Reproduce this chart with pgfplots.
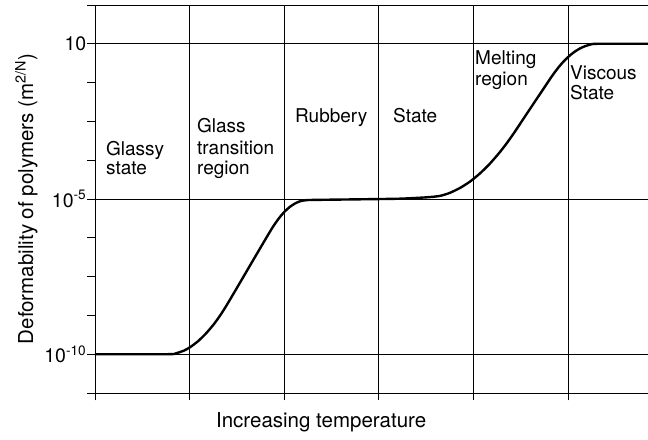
\documentclass[border=0pt]{standalone}
\usepackage{fontspec}
\setmainfont{TeX Gyre Heros}
\usepackage{pgfplots}
\pgfplotsset{compat=1.18}
\begin{document}
\fontsize{19bp}{20bp}\selectfont
\begin{tikzpicture}[font=\fontsize{19bp}{20bp}\selectfont]
\begin{axis}[
  scale only axis, width=553bp, height=388bp,
  xmin=0, xmax=5.846, ymin=0, ymax=10,
  axis x line=box, axis y line=left,
  every outer x axis line/.append style={-},
  every outer y axis line/.append style={-},
  every inner x axis line/.append style={-},
  every inner y axis line/.append style={-},
  axis line style={black, line width=0.9bp},
  xtick={0,...,5}, xticklabels={}, xtick pos=bottom,
  ytick={0,...,10},
  yticklabels={,10\textsuperscript{-10},,,,10\textsuperscript{-5},,,,10,},
  ytick pos=left,
  tick align=outside, major tick length=7.5bp,
  tick style={black, line width=0.9bp},
  xmajorgrids, grid style={black, line width=0.9bp},
  extra y ticks={1,5,9}, extra y tick labels={},
  extra y tick style={grid=major},
  /pgf/number format/assume math mode=true,
  yticklabel style={inner sep=1bp, font=\fontsize{19.5bp}{20bp}\selectfont},
  xlabel={Increasing temperature},
  xlabel style={at={(axis description cs:0.409,-0.0902)}, anchor=base, inner sep=0pt, font=\fontsize{20.5bp}{21bp}\selectfont},
  ylabel={Deformability of polymers (m\textsuperscript{2/N})},
  ylabel style={at={(axis description cs:-0.1121,0.5)}, anchor=base, inner sep=0pt, font=\fontsize{20.5bp}{21bp}\selectfont},
  clip=false,
]
\addplot[black, line width=2.4bp, smooth, tension=0.4] coordinates {
(0,1.0) (0.772,1.0) (0.856,1.023) (0.941,1.093) (1.004,1.178) (1.089,1.334)
(1.173,1.534) (1.258,1.778) (1.332,2.031) (1.406,2.320) (1.533,2.845)
(1.691,3.503) (1.850,4.160) (1.903,4.363) (1.956,4.539) (2.008,4.683)
(2.061,4.799) (2.114,4.884) (2.167,4.941) (2.241,4.972) (2.484,4.982)
(2.801,4.992) (3.224,5.008) (3.510,5.044) (3.647,5.080) (3.753,5.160)
(3.858,5.284) (3.964,5.448) (4.070,5.660) (4.175,5.912) (4.281,6.211)
(4.366,6.482) (4.440,6.740) (4.545,7.126) (4.651,7.513) (4.757,7.899)
(4.810,8.093) (4.863,8.276) (4.915,8.438) (4.968,8.580) (5.021,8.701)
(5.074,8.802) (5.127,8.880) (5.180,8.938) (5.233,8.977) (5.307,9.0)
(5.846,9.0)
};
\node[anchor=base west, inner sep=0pt] at (axis cs:0.116,6.116) {Glassy};
\node[anchor=base west, inner sep=0pt] at (axis cs:0.116,5.619) {state};
\node[anchor=base west, inner sep=0pt] at (axis cs:1.078,6.701) {Glass};
\node[anchor=base west, inner xsep=0pt, inner ysep=4bp, fill=white] at (axis cs:1.078,6.134) {transition\kern8bp};
\node[anchor=base west, inner sep=0pt] at (axis cs:1.078,5.619) {region};
\node[anchor=base west, inner sep=0pt] at (axis cs:2.114,6.959) {Rubbery};
\node[anchor=base west, inner sep=0pt] at (axis cs:3.150,6.959) {State};
\node[anchor=base west, inner sep=0pt] at (axis cs:4.017,8.454) {Melting};
\node[anchor=base west, inner sep=0pt] at (axis cs:4.017,7.938) {region};
\node[anchor=base west, inner sep=0pt] at (axis cs:5.021,8.067) {Viscous};
\node[anchor=base west, inner sep=0pt] at (axis cs:5.021,7.552) {State};
\coordinate (ll) at (rel axis cs:0,0);
\coordinate (ur) at (rel axis cs:1,1);
\end{axis}
\pgfresetboundingbox
\path (ll) ++(-95bp,-47bp) (ur) ++(0bp,5bp);
\end{tikzpicture}
\end{document}
